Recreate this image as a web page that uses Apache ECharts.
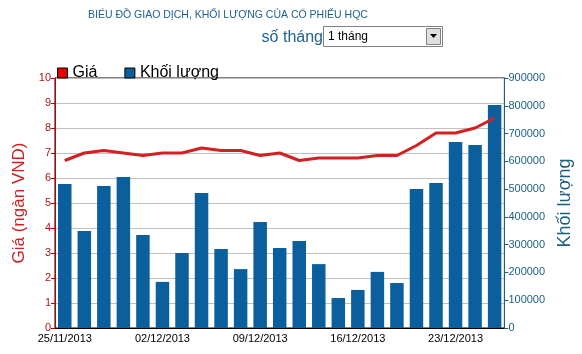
<!DOCTYPE html>
<html lang="vi">
<head>
    <meta charset="UTF-8">
    <title>HQC</title>
    <script src="https://cdn.jsdelivr.net/npm/echarts@6/dist/echarts.min.js"></script>
    <style>
        html, body { margin: 0; padding: 0; background: #fff; }
        #chart { width: 582px; height: 354px; }
    </style>
</head>
<body>
    <div id="chart"></div>
    <script>
        // ngày giao dịch
        var dates = ['25/11/2013', '26/11/2013', '27/11/2013', '28/11/2013', '29/11/2013',
            '02/12/2013', '03/12/2013', '04/12/2013', '05/12/2013', '06/12/2013',
            '09/12/2013', '10/12/2013', '11/12/2013', '12/12/2013', '13/12/2013',
            '16/12/2013', '17/12/2013', '18/12/2013', '19/12/2013', '20/12/2013',
            '23/12/2013', '24/12/2013', '25/12/2013'];
        // giá (ngàn VND)
        var gia = [6.7, 7.0, 7.1, 7.0, 6.9, 7.0, 7.0, 7.2, 7.1, 7.1, 6.9, 7.0,
            6.7, 6.8, 6.8, 6.8, 6.9, 6.9, 7.3, 7.8, 7.8, 8.0, 8.4];
        // khối lượng
        var khoiLuong = [518000, 349000, 511000, 544000, 335000, 166000, 270000, 486000,
            284000, 212000, 382000, 288000, 313000, 230000, 108000, 137000, 202000,
            162000, 500000, 522000, 670000, 659000, 803000];

        var font = '"Liberation Sans", Arial, sans-serif';
        var chart = echarts.init(document.getElementById('chart'));

        var option = {
            animation: false,
            textStyle: { fontFamily: font },
            title: {
                text: 'BIỂU ĐỒ GIAO DỊCH, KHỐI LƯỢNG CỦA CỔ PHIẾU HQC',
                left: 83,
                top: 5,
                textStyle: { fontSize: 10.5, fontWeight: 'normal', color: '#21628f', fontFamily: font }
            },
            legend: {
                left: 52,
                top: 60,
                itemWidth: 10,
                itemHeight: 10,
                itemGap: 27,
                icon: 'rect',
                textStyle: { fontSize: 16, color: '#000' },
                data: [
                    { name: 'Giá', itemStyle: { color: '#e60000', borderColor: '#000', borderWidth: 1 } },
                    { name: 'Khối lượng', itemStyle: { color: '#0a5f9c', borderColor: '#000', borderWidth: 1 } }
                ]
            },
            graphic: [
                {
                    type: 'text', right: 259, top: 30,
                    style: { text: 'số tháng', fontSize: 16, fill: '#21628f', fontFamily: font }
                },
                {
                    type: 'rect', shape: { x: 323.5, y: 26.5, width: 119, height: 20 },
                    style: { fill: '#fff', stroke: '#808080', lineWidth: 1 }
                },
                {
                    type: 'text', left: 328, top: 31,
                    style: { text: '1 tháng', fontSize: 12, fill: '#000', fontFamily: font }
                },
                {
                    type: 'rect', shape: { x: 426.5, y: 28.5, width: 14, height: 16 },
                    style: { fill: '#e0e0e0', stroke: '#808080', lineWidth: 1 }
                },
                {
                    type: 'polygon', shape: { points: [[430, 34], [437, 34], [433.5, 38]] },
                    style: { fill: '#000' }
                }
            ],
            grid: {
                left: 55,
                right: 76,
                top: 78,
                bottom: 26,
                show: true,
                borderColor: '#000',
                borderWidth: 1
            },
            xAxis: {
                type: 'category',
                data: dates,
                boundaryGap: true,
                axisLine: { lineStyle: { color: '#000' } },
                axisTick: { alignWithLabel: true, interval: 4, length: 5, lineStyle: { color: '#000' } },
                axisLabel: { interval: 4, color: '#000', fontSize: 11, margin: 5 }
            },
            yAxis: [
                {
                    type: 'value',
                    min: 0, max: 10, interval: 1,
                    name: 'Giá (ngàn VND)',
                    nameLocation: 'middle',
                    nameRotate: 90,
                    nameGap: 25,
                    nameTextStyle: { color: '#d42020', fontSize: 17 },
                    axisLine: { show: true, lineStyle: { color: '#c00000' } },
                    axisTick: { show: true, length: 4, lineStyle: { color: '#c00000' } },
                    axisLabel: { color: '#a51818', fontSize: 11, margin: 4 },
                    splitLine: { lineStyle: { color: '#c0c0c0' } }
                },
                {
                    type: 'value',
                    min: 0, max: 900000, interval: 100000,
                    name: 'Khối lượng',
                    nameLocation: 'middle',
                    nameRotate: 90,
                    nameGap: 50,
                    nameTextStyle: { color: '#1d5f80', fontSize: 18 },
                    axisLine: { show: true, lineStyle: { color: '#1d5f80' } },
                    axisTick: { show: true, length: 4, lineStyle: { color: '#1d5f80' } },
                    axisLabel: {
                        color: '#1d5f80', fontSize: 11, margin: 4,
                        formatter: function (v) { return String(v); }
                    },
                    splitLine: { show: false }
                }
            ],
            series: [
                {
                    name: 'Khối lượng',
                    type: 'bar',
                    yAxisIndex: 1,
                    data: khoiLuong,
                    barCategoryGap: '31%',
                    itemStyle: { color: '#0a5f9c' }
                },
                {
                    name: 'Giá',
                    type: 'line',
                    yAxisIndex: 0,
                    data: gia,
                    symbol: 'none',
                    z: 5,
                    lineStyle: { color: '#d42020', width: 3 }
                }
            ]
        };

        chart.setOption(option);
    </script>
</body>
</html>
